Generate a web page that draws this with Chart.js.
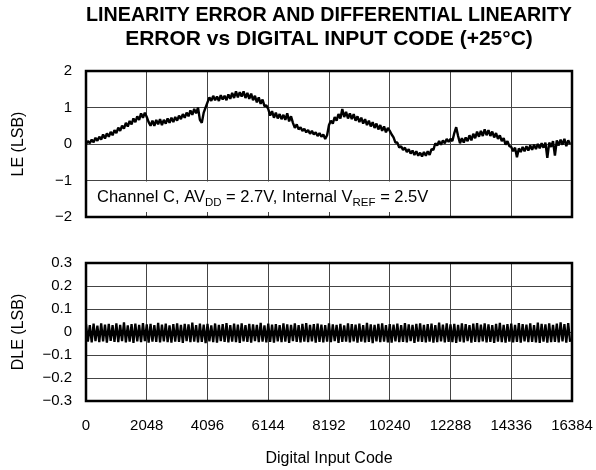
<!DOCTYPE html>
<html>
<head>
<meta charset="utf-8">
<script src="https://cdn.jsdelivr.net/npm/chart.js@4.4.1/dist/chart.umd.min.js"></script>
<style>
  body { margin: 0; background: #fff; }
  #wrap { position: relative; width: 596px; height: 470px; }
  canvas { position: absolute; left: 0; }
  #le { top: 0; }
  #dle { top: 240px; }
</style>
</head>
<body>
<div id="wrap">
  <canvas id="le" width="596" height="240"></canvas>
  <canvas id="dle" width="596" height="230"></canvas>
</div>
<script>
const FONT = "'Liberation Sans', Arial, Helvetica, sans-serif";

const titleLines = [
  "LINEARITY ERROR AND DIFFERENTIAL LINEARITY",
  "ERROR vs DIGITAL INPUT CODE (+25\u00B0C)"
];
const xTitle = "Digital Input Code";
const leTitle = "LE (LSB)";
const dleTitle = "DLE (LSB)";
// [text, isSubscript]
const noteParts = [
  ["Channel C, AV", false], ["DD", true], [" = 2.7V, Internal V", false],
  ["REF", true], [" = 2.5V", false]
];

const codeMax = 16384;
const codeTick = 2048;
const codeStep = 64; // one sample every 64 codes

// linearity error, LSB
const leValues = [
  0.00, 0.08, 0.02, 0.12, 0.05, 0.17, 0.09, 0.20, 0.12, 0.26, 0.15, 0.29, 0.20, 0.33, 0.24, 0.38,
  0.30, 0.45, 0.36, 0.50, 0.42, 0.58, 0.48, 0.63, 0.54, 0.70, 0.60, 0.76, 0.66, 0.84, 0.72, 0.86,
  0.74, 0.60, 0.50, 0.64, 0.50, 0.66, 0.54, 0.68, 0.52, 0.66, 0.56, 0.70, 0.58, 0.72, 0.60, 0.74,
  0.64, 0.78, 0.68, 0.82, 0.72, 0.86, 0.76, 0.92, 0.80, 0.96, 0.84, 1.00, 0.66, 0.58, 0.86, 1.00,
  1.14, 1.28, 1.18, 1.32, 1.20, 1.30, 1.18, 1.34, 1.22, 1.32, 1.20, 1.36, 1.24, 1.40, 1.26, 1.44,
  1.28, 1.42, 1.30, 1.44, 1.26, 1.40, 1.24, 1.38, 1.20, 1.32, 1.14, 1.28, 1.10, 1.22, 1.04, 1.06,
  0.96, 0.78, 0.90, 0.72, 0.86, 0.70, 0.82, 0.68, 0.80, 0.66, 0.84, 0.62, 0.76, 0.58, 0.44, 0.54,
  0.40, 0.46, 0.36, 0.42, 0.32, 0.38, 0.28, 0.36, 0.26, 0.32, 0.22, 0.30, 0.20, 0.26, 0.14, 0.24,
  0.52, 0.64, 0.56, 0.74, 0.64, 0.82, 0.70, 0.96, 0.74, 0.88, 0.70, 0.84, 0.68, 0.82, 0.64, 0.76,
  0.60, 0.72, 0.56, 0.68, 0.52, 0.64, 0.48, 0.60, 0.44, 0.56, 0.40, 0.52, 0.36, 0.48, 0.32, 0.44,
  0.36, 0.26, 0.18, 0.04, 0.04, -0.10, -0.06, -0.16, -0.10, -0.22, -0.14, -0.26, -0.18, -0.30, -0.20, -0.32,
  -0.24, -0.34, -0.22, -0.32, -0.20, -0.30, -0.14, -0.16, 0.02, -0.04, 0.08, -0.02, 0.10, 0.02, 0.14, 0.06,
  0.14, 0.08, 0.30, 0.46, 0.22, 0.02, 0.16, 0.04, 0.18, 0.08, 0.24, 0.10, 0.28, 0.16, 0.34, 0.20,
  0.36, 0.22, 0.40, 0.24, 0.38, 0.22, 0.34, 0.18, 0.30, 0.14, 0.24, 0.08, 0.16, -0.02, 0.08, -0.06,
  -0.08, -0.20, -0.10, -0.36, -0.12, -0.22, -0.08, -0.20, -0.06, -0.18, -0.04, -0.16, -0.02, -0.14, 0.00, -0.12,
  0.02, -0.10, 0.04, -0.38, 0.04, -0.08, 0.08, -0.32, 0.10, -0.04, 0.12, -0.02, 0.14, -0.06, 0.10, 0.00
];

// differential linearity error, LSB
const dleValues = [
  0.034, -0.042, 0.030, -0.045, 0.036, -0.040, 0.028, -0.044, 0.038, -0.041, 0.032, -0.046, 0.035, -0.039, 0.030, -0.043,
  0.037, -0.044, 0.031, -0.040, 0.042, -0.045, 0.029, -0.042, 0.034, -0.047, 0.036, -0.041, 0.031, -0.044, 0.039, -0.040,
  0.033, -0.046, 0.035, -0.042, 0.030, -0.043, 0.040, -0.045, 0.032, -0.041, 0.036, -0.044, 0.029, -0.046, 0.034, -0.042,
  0.038, -0.043, 0.031, -0.047, 0.035, -0.040, 0.033, -0.044, 0.041, -0.042, 0.030, -0.045, 0.036, -0.043, 0.032, -0.048,
  0.035, -0.041, 0.029, -0.044, 0.037, -0.046, 0.031, -0.040, 0.034, -0.043, 0.039, -0.045, 0.030, -0.042, 0.036, -0.044,
  0.032, -0.047, 0.038, -0.041, 0.030, -0.043, 0.035, -0.046, 0.033, -0.040, 0.031, -0.044, 0.040, -0.042, 0.029, -0.045,
  0.036, -0.043, 0.032, -0.046, 0.034, -0.041, 0.030, -0.044, 0.037, -0.042, 0.033, -0.047, 0.031, -0.040, 0.038, -0.043,
  0.030, -0.045, 0.035, -0.042, 0.039, -0.044, 0.031, -0.041, 0.034, -0.046, 0.036, -0.043, 0.032, -0.045, 0.030, -0.042,
  0.037, -0.044, 0.033, -0.040, 0.031, -0.047, 0.035, -0.043, 0.029, -0.042, 0.038, -0.045, 0.034, -0.041, 0.032, -0.046,
  0.036, -0.042, 0.030, -0.045, 0.040, -0.043, 0.033, -0.048, 0.031, -0.041, 0.035, -0.044, 0.037, -0.042, 0.030, -0.045,
  0.034, -0.046, 0.032, -0.041, 0.036, -0.044, 0.030, -0.043, 0.039, -0.045, 0.033, -0.040, 0.031, -0.047, 0.035, -0.042,
  0.038, -0.043, 0.031, -0.045, 0.034, -0.042, 0.036, -0.046, 0.030, -0.044, 0.041, -0.041, 0.032, -0.045, 0.037, -0.043,
  0.033, -0.044, 0.035, -0.047, 0.031, -0.042, 0.038, -0.045, 0.034, -0.040, 0.030, -0.046, 0.036, -0.043, 0.039, -0.044,
  0.032, -0.041, 0.037, -0.045, 0.033, -0.043, 0.030, -0.047, 0.035, -0.042, 0.040, -0.044, 0.031, -0.046, 0.034, -0.042,
  0.036, -0.045, 0.031, -0.043, 0.039, -0.046, 0.034, -0.041, 0.032, -0.044, 0.037, -0.043, 0.030, -0.045, 0.041, -0.047,
  0.035, -0.042, 0.033, -0.046, 0.038, -0.044, 0.031, -0.043, 0.036, -0.045, 0.042, -0.041, 0.034, -0.046, 0.039, -0.043
];

const toPoints = vals => vals.map((v, i) => ({ x: i * codeStep, y: v }));

const minus = s => String(s).replace('-', '\u2212');

Chart.defaults.font.family = FONT;
Chart.defaults.color = '#000';
Chart.defaults.animation = false;

// thick black frame around the plot area
const framePlugin = {
  id: 'frame',
  afterDatasetsDraw(chart) {
    const { ctx, chartArea: a } = chart;
    ctx.save();
    ctx.strokeStyle = '#000';
    ctx.lineWidth = 2.5;
    ctx.strokeRect(a.left, a.top, a.right - a.left, a.bottom - a.top);
    ctx.restore();
  }
};

// white label box in the lower part of the LE panel
const notePlugin = {
  id: 'note',
  beforeDatasetsDraw(chart) {
    const { ctx, chartArea: a, scales: { x, y } } = chart;
    const top = y.getPixelForValue(-1) + 1;
    const right = x.getPixelForValue(12288) - 1;
    ctx.save();
    ctx.fillStyle = '#fff';
    ctx.fillRect(a.left, top, right - a.left, a.bottom - 5 - top);
    ctx.fillStyle = '#000';
    ctx.textBaseline = 'alphabetic';
    let cx = a.left + 11;
    const base = a.bottom - 15;
    for (const [t, sub] of noteParts) {
      ctx.font = (sub ? '11.5px ' : '16.5px ') + FONT;
      ctx.fillText(t, cx, sub ? base + 4 : base);
      cx += ctx.measureText(t).width;
    }
    ctx.restore();
  }
};

const gridStyle = { color: '#444', lineWidth: 1, drawTicks: false };

const xAxis = (showTicks) => ({
  type: 'linear',
  min: 0,
  max: codeMax,
  grid: gridStyle,
  border: { display: false },
  ticks: {
    display: showTicks,
    stepSize: codeTick,
    padding: 16,
    maxRotation: 0,
    autoSkip: false,
    font: { size: 15 },
    callback: v => String(v)
  },
  title: {
    display: showTicks,
    text: xTitle,
    font: { size: 16 },
    padding: { top: 0, bottom: 2 }
  },
  afterFit: s => {
    s.height = showTicks ? 69 : 0;
    s.paddingLeft = 0;
    s.paddingRight = 0;
  }
});

const yAxis = (min, max, step, title, fmt) => ({
  min: min,
  max: max,
  grid: gridStyle,
  border: { display: false },
  ticks: {
    stepSize: step,
    padding: 14,
    font: { size: 15 },
    callback: v => minus(fmt(v))
  },
  title: {
    display: true,
    text: title,
    font: { size: 16 },
    padding: { top: 9, bottom: 0 }
  },
  afterFit: s => { s.width = 86; }
});

new Chart(document.getElementById('le'), {
  type: 'line',
  data: {
    datasets: [{
      data: toPoints(leValues),
      borderColor: '#000',
      borderWidth: 2.4,
      borderJoinStyle: 'bevel',
      pointRadius: 0,
      tension: 0
    }]
  },
  options: {
    responsive: false,
    layout: { padding: { top: 0, right: 24, bottom: 23, left: 0 } },
    plugins: {
      legend: { display: false },
      tooltip: { enabled: false },
      title: {
        display: true,
        fullSize: false,
        text: titleLines,
        color: '#000',
        font: { size: 21, weight: 'bold', lineHeight: 1.16 },
        padding: { top: 3, bottom: 19.3 }
      }
    },
    scales: {
      x: xAxis(false),
      y: yAxis(-2, 2, 1, leTitle, v => Math.round(v).toString())
    }
  },
  plugins: [notePlugin, framePlugin]
});

new Chart(document.getElementById('dle'), {
  type: 'line',
  data: {
    datasets: [{
      data: toPoints(dleValues),
      borderColor: '#000',
      borderWidth: 2.3,
      borderJoinStyle: 'bevel',
      pointRadius: 0,
      tension: 0
    }]
  },
  options: {
    responsive: false,
    layout: { padding: { top: 14, right: 24, bottom: 0, left: 0 } },
    plugins: {
      legend: { display: false },
      tooltip: { enabled: false }
    },
    scales: {
      x: xAxis(true),
      y: yAxis(-0.3, 0.3, 0.1, dleTitle, v => Math.abs(v) < 1e-9 ? '0' : v.toFixed(1))
    }
  },
  plugins: [framePlugin]
});
</script>
</body>
</html>
